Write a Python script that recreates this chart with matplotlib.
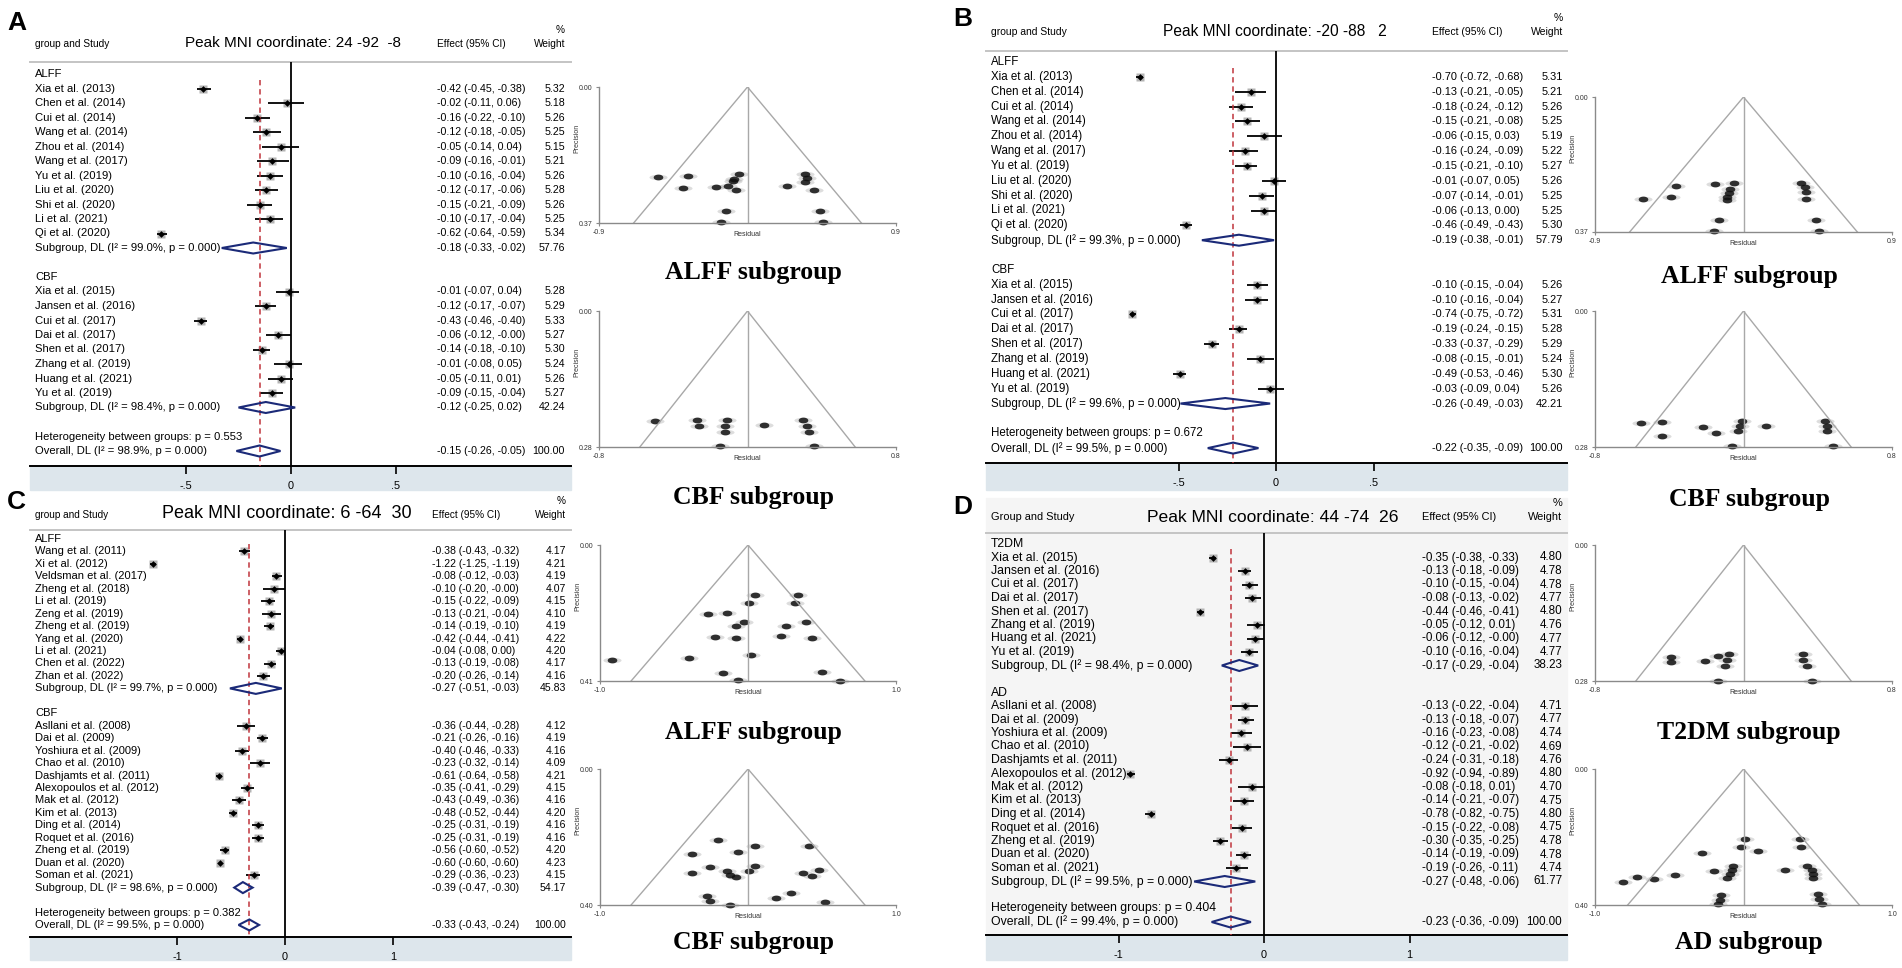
import numpy as np
import matplotlib
matplotlib.use('Agg')
import matplotlib.pyplot as plt
from matplotlib.patches import Rectangle, Polygon
from matplotlib.path import Path

plt.rcParams['font.family'] = ['Liberation Sans', 'DejaVu Sans']

W, H = 1902, 968

# study names, shared between panels
alff_ab = ['Xia et al. (2013)', 'Chen et al. (2014)', 'Cui et al. (2014)', 'Wang et al. (2014)',
           'Zhou et al. (2014)', 'Wang et al. (2017)', 'Yu et al. (2019)', 'Liu et al. (2020)',
           'Shi et al. (2020)', 'Li et al. (2021)', 'Qi et al. (2020)']
cbf_abd = ['Xia et al. (2015)', 'Jansen et al. (2016)', 'Cui et al. (2017)', 'Dai et al. (2017)',
           'Shen et al. (2017)', 'Zhang et al. (2019)', 'Huang et al. (2021)', 'Yu et al. (2019)']
alff_c = ['Wang et al. (2011)', 'Xi et al. (2012)', 'Veldsman et al. (2017)', 'Zheng et al. (2018)',
          'Li et al. (2019)', 'Zeng et al. (2019)', 'Zheng et al. (2019)', 'Yang et al. (2020)',
          'Li et al. (2021)', 'Chen et al. (2022)', 'Zhan et al. (2022)']
cbf_cd = ['Asllani et al. (2008)', 'Dai et al. (2009)', 'Yoshiura et al. (2009)', 'Chao et al. (2010)',
          'Dashjamts et al. (2011)', 'Alexopoulos et al. (2012)', 'Mak et al. (2012)', 'Kim et al. (2013)',
          'Ding et al. (2014)', 'Roquet et al. (2016)', 'Zheng et al. (2019)', 'Duan et al. (2020)',
          'Soman et al. (2021)']

# ---- panel A: 24 -92 -8
a_alff_es = [-0.42, -0.02, -0.16, -0.12, -0.05, -0.09, -0.10, -0.12, -0.15, -0.10, -0.62]
a_alff_lo = [-0.45, -0.11, -0.22, -0.18, -0.14, -0.16, -0.16, -0.17, -0.21, -0.17, -0.64]
a_alff_hi = [-0.38, 0.06, -0.10, -0.05, 0.04, -0.01, -0.04, -0.06, -0.09, -0.04, -0.59]
a_alff_w = [5.32, 5.18, 5.26, 5.25, 5.15, 5.21, 5.26, 5.28, 5.26, 5.25, 5.34]
a_cbf_es = [-0.01, -0.12, -0.43, -0.06, -0.14, -0.01, -0.05, -0.09]
a_cbf_lo = [-0.07, -0.17, -0.46, -0.12, -0.18, -0.08, -0.11, -0.15]
a_cbf_hi = [0.04, -0.07, -0.40, -0.0, -0.10, 0.05, 0.01, -0.04]
a_cbf_w = [5.28, 5.29, 5.33, 5.27, 5.30, 5.24, 5.26, 5.27]
a_sub_es = [-0.18, -0.12]
a_sub_lo = [-0.33, -0.25]
a_sub_hi = [-0.02, 0.02]
a_sub_w = [57.76, 42.24]
a_sub_i2 = ['99.0%', '98.4%']
a_overall = [-0.15, -0.26, -0.05]
a_overall_i2 = '98.9%'
a_het = '0.553'

# ---- panel B: -20 -88 2
b_alff_es = [-0.70, -0.13, -0.18, -0.15, -0.06, -0.16, -0.15, -0.01, -0.07, -0.06, -0.46]
b_alff_lo = [-0.72, -0.21, -0.24, -0.21, -0.15, -0.24, -0.21, -0.07, -0.14, -0.13, -0.49]
b_alff_hi = [-0.68, -0.05, -0.12, -0.08, 0.03, -0.09, -0.10, 0.05, -0.01, 0.0, -0.43]
b_alff_w = [5.31, 5.21, 5.26, 5.25, 5.19, 5.22, 5.27, 5.26, 5.25, 5.25, 5.30]
b_cbf_es = [-0.10, -0.10, -0.74, -0.19, -0.33, -0.08, -0.49, -0.03]
b_cbf_lo = [-0.15, -0.16, -0.75, -0.24, -0.37, -0.15, -0.53, -0.09]
b_cbf_hi = [-0.04, -0.04, -0.72, -0.15, -0.29, -0.01, -0.46, 0.04]
b_cbf_w = [5.26, 5.27, 5.31, 5.28, 5.29, 5.24, 5.30, 5.26]
b_sub_es = [-0.19, -0.26]
b_sub_lo = [-0.38, -0.49]
b_sub_hi = [-0.01, -0.03]
b_sub_w = [57.79, 42.21]
b_sub_i2 = ['99.3%', '99.6%']
b_overall = [-0.22, -0.35, -0.09]
b_overall_i2 = '99.5%'
b_het = '0.672'

# ---- panel C: 6 -64 30
c_alff_es = [-0.38, -1.22, -0.08, -0.10, -0.15, -0.13, -0.14, -0.42, -0.04, -0.13, -0.20]
c_alff_lo = [-0.43, -1.25, -0.12, -0.20, -0.22, -0.21, -0.19, -0.44, -0.08, -0.19, -0.26]
c_alff_hi = [-0.32, -1.19, -0.03, -0.0, -0.09, -0.04, -0.10, -0.41, 0.0, -0.08, -0.14]
c_alff_w = [4.17, 4.21, 4.19, 4.07, 4.15, 4.10, 4.19, 4.22, 4.20, 4.17, 4.16]
c_cbf_es = [-0.36, -0.21, -0.40, -0.23, -0.61, -0.35, -0.43, -0.48, -0.25, -0.25, -0.56, -0.60, -0.29]
c_cbf_lo = [-0.44, -0.26, -0.46, -0.32, -0.64, -0.41, -0.49, -0.52, -0.31, -0.31, -0.60, -0.60, -0.36]
c_cbf_hi = [-0.28, -0.16, -0.33, -0.14, -0.58, -0.29, -0.36, -0.44, -0.19, -0.19, -0.52, -0.60, -0.23]
c_cbf_w = [4.12, 4.19, 4.16, 4.09, 4.21, 4.15, 4.16, 4.20, 4.16, 4.16, 4.20, 4.23, 4.15]
c_sub_es = [-0.27, -0.39]
c_sub_lo = [-0.51, -0.47]
c_sub_hi = [-0.03, -0.30]
c_sub_w = [45.83, 54.17]
c_sub_i2 = ['99.7%', '98.6%']
c_overall = [-0.33, -0.43, -0.24]
c_overall_i2 = '99.5%'
c_het = '0.382'

# ---- panel D: 44 -74 26
d_t2dm_es = [-0.35, -0.13, -0.10, -0.08, -0.44, -0.05, -0.06, -0.10]
d_t2dm_lo = [-0.38, -0.18, -0.15, -0.13, -0.46, -0.12, -0.12, -0.16]
d_t2dm_hi = [-0.33, -0.09, -0.04, -0.02, -0.41, 0.01, -0.0, -0.04]
d_t2dm_w = [4.80, 4.78, 4.78, 4.77, 4.80, 4.76, 4.77, 4.77]
d_ad_es = [-0.13, -0.13, -0.16, -0.12, -0.24, -0.92, -0.08, -0.14, -0.78, -0.15, -0.30, -0.14, -0.19]
d_ad_lo = [-0.22, -0.18, -0.23, -0.21, -0.31, -0.94, -0.18, -0.21, -0.82, -0.22, -0.35, -0.19, -0.26]
d_ad_hi = [-0.04, -0.07, -0.08, -0.02, -0.18, -0.89, 0.01, -0.07, -0.75, -0.08, -0.25, -0.09, -0.11]
d_ad_w = [4.71, 4.77, 4.74, 4.69, 4.76, 4.80, 4.70, 4.75, 4.80, 4.75, 4.78, 4.78, 4.74]
d_sub_es = [-0.17, -0.27]
d_sub_lo = [-0.29, -0.48]
d_sub_hi = [-0.04, -0.06]
d_sub_w = [38.23, 61.77]
d_sub_i2 = ['98.4%', '99.5%']
d_overall = [-0.23, -0.36, -0.09]
d_overall_i2 = '99.4%'
d_het = '0.404'

# ---- funnel plots (residual, precision)
a1_res = [-0.54, -0.36, -0.39, -0.19, -0.12, -0.09, -0.08, -0.05, -0.07, -0.13, -0.16,
          0.24, 0.35, 0.36, 0.35, 0.40, 0.44, 0.46]
a1_prec = [0.245, 0.241, 0.274, 0.273, 0.268, 0.256, 0.250, 0.236, 0.281, 0.337, 0.367,
           0.269, 0.236, 0.248, 0.258, 0.280, 0.337, 0.367]
a2_res = [-0.50, -0.27, -0.26, -0.11, -0.12, -0.12, -0.15, 0.09, 0.30, 0.32, 0.33, 0.36]
a2_prec = [0.227, 0.224, 0.237, 0.225, 0.237, 0.249, 0.278, 0.235, 0.225, 0.237, 0.249, 0.278]
b1_res = [-0.61, -0.44, -0.41, -0.17, -0.06, -0.08, -0.09, -0.10, -0.10, -0.15, -0.18,
          0.35, 0.37, 0.38, 0.38, 0.44, 0.46]
b1_prec = [0.280, 0.275, 0.243, 0.238, 0.236, 0.252, 0.264, 0.275, 0.282, 0.338, 0.368,
           0.235, 0.247, 0.259, 0.280, 0.337, 0.366]
b2_res = [-0.55, -0.44, -0.44, -0.22, -0.15, -0.01, -0.02, -0.03, -0.06, 0.12, 0.44, 0.45, 0.45, 0.48]
b2_prec = [0.230, 0.228, 0.257, 0.239, 0.252, 0.226, 0.237, 0.247, 0.278, 0.236, 0.226, 0.237, 0.247, 0.278]
c1_res = [-0.92, -0.40, -0.27, -0.14, 0.05, 0.01, -0.03, -0.08, -0.22, -0.08, 0.02, -0.17, -0.07,
          0.34, 0.32, 0.39, 0.26, 0.22, 0.43, 0.50, 0.62]
c1_prec = [0.347, 0.340, 0.207, 0.204, 0.151, 0.176, 0.231, 0.245, 0.278, 0.279, 0.331, 0.385, 0.408,
           0.151, 0.176, 0.231, 0.243, 0.275, 0.279, 0.383, 0.410]
c2_res = [-0.20, -0.38, -0.07, 0.05, -0.26, -0.38, -0.14, -0.12, -0.08, 0.01, 0.05,
          -0.28, -0.26, -0.12, 0.19, 0.29, 0.41, 0.37, 0.43, 0.48, 0.52]
c2_prec = [0.208, 0.249, 0.243, 0.227, 0.289, 0.305, 0.299, 0.311, 0.319, 0.299, 0.284,
           0.374, 0.388, 0.399, 0.378, 0.364, 0.225, 0.305, 0.314, 0.297, 0.392]
d1_res = [-0.39, -0.39, -0.21, -0.14, -0.08, -0.09, -0.10, -0.14, 0.32, 0.32, 0.34, 0.37]
d1_prec = [0.230, 0.241, 0.238, 0.228, 0.224, 0.237, 0.249, 0.279, 0.224, 0.237, 0.249, 0.279]
d2_res = [-0.81, -0.72, -0.60, -0.46, -0.28, -0.20, -0.07, -0.08, -0.09, -0.11, -0.02, 0.01, 0.10,
          0.28, 0.38, 0.39, 0.43, 0.46, 0.47, 0.47, -0.15, -0.16, -0.17, 0.50, 0.51, 0.53]
d2_prec = [0.331, 0.318, 0.323, 0.311, 0.246, 0.300, 0.286, 0.298, 0.309, 0.320, 0.229, 0.206, 0.242,
           0.296, 0.206, 0.228, 0.284, 0.297, 0.309, 0.320, 0.371, 0.385, 0.398, 0.369, 0.382, 0.396]

NAVY = '#1b2a78'
RED = '#c0343c'
BAND = '#dde6ec'

fig = plt.figure(figsize=(W / 100, H / 100), dpi=100)


def fig_rect(x0, y0, x1, y1):
    return [x0 / W, 1 - y1 / H, (x1 - x0) / W, (y1 - y0) / H]


def forest(lay, groups, names, es, lo, hi, wt, sub_es, sub_lo, sub_hi, sub_w, sub_i2,
           overall, overall_i2, het, title, xt, xtl, head_label):
    def px_x(px):
        return (px - lay['zero']) / lay['ppu']

    def px_r(py):
        return (py - lay['row0']) / lay['step']

    if lay.get('bg'):
        fig.add_artist(Rectangle((lay['left'] / W, 1 - lay['axis'] / H),
                                 (lay['right'] - lay['left']) / W, (lay['axis'] - lay['bgtop']) / H,
                                 transform=fig.transFigure, color=lay['bg'], zorder=-2))
    fig.add_artist(Rectangle((lay['left'] / W, 1 - lay['band'] / H),
                             (lay['right'] - lay['left']) / W, (lay['band'] - lay['axis']) / H,
                             transform=fig.transFigure, color=BAND, zorder=-1))

    ax = fig.add_axes(fig_rect(lay['left'], lay['top'], lay['right'], lay['axis']))
    ax.patch.set_visible(False)
    ax.set_xlim(px_x(lay['left']), px_x(lay['right']))
    ax.set_ylim(px_r(lay['axis']), px_r(lay['top']))
    for s in ['left', 'right']:
        ax.spines[s].set_visible(False)
    ax.spines['top'].set_color('#c4c4c4')
    ax.spines['top'].set_linewidth(1.4)
    ax.spines['bottom'].set_linewidth(1.4)
    ax.set_yticks([])
    ax.set_xticks(xt)
    ax.set_xticklabels(xtl)
    ax.tick_params(axis='x', direction='out', length=6, width=1.2, labelsize=7.8, pad=5)

    fs = lay['fs']
    nfs = fs * 0.95
    lx = px_x(lay['lab_x'])
    ex = px_x(lay['eff_x'])
    wx = px_x(lay['wt_x'])
    txt = dict(fontsize=fs, va='center', clip_on=False)
    num = dict(fontsize=nfs, va='center', clip_on=False)

    # header
    hy = px_r(lay['head_y'])
    ax.text(lx, hy, head_label, fontsize=fs * 0.9, va='center', clip_on=False)
    ax.text(ex, hy, 'Effect (95% CI)', fontsize=fs * 0.9, va='center', clip_on=False)
    ax.text(wx, hy, 'Weight', fontsize=fs * 0.9, va='center', ha='right', clip_on=False)
    ax.text(wx, px_r(lay['head_y'] - 14), '%', fontsize=fs * 0.9, va='center', ha='right', clip_on=False)
    ax.text(px_x(lay['title_x']), px_r(lay['title_y']), title, fontsize=lay['tfs'],
            va='center', ha='center', clip_on=False)

    hh = 5.5 / lay['step']
    row = 0
    for g in range(len(groups)):
        ax.text(lx, row, groups[g], **txt)
        row += 1
        rows = np.arange(row, row + len(es[g]))
        ax.hlines(rows, lo[g], hi[g], color='k', lw=1.3, zorder=3)
        ax.plot(es[g], rows, 's', color='#b4b4b4', ms=6.4, mec='none', zorder=2)
        ax.plot(es[g], rows, 'D', color='k', ms=3.4, mec='none', zorder=4)
        for i, r in enumerate(rows):
            ax.text(lx, r, names[g][i], **txt)
            ax.text(ex, r, f'{es[g][i]:.2f} ({lo[g][i]:.2f}, {hi[g][i]:.2f})', **num)
            ax.text(wx, r, f'{wt[g][i]:.2f}', ha='right', **num)
        row += len(es[g])
        ax.add_patch(Polygon([(sub_lo[g], row), (sub_es[g], row - hh), (sub_hi[g], row),
                              (sub_es[g], row + hh)], closed=True, fill=False,
                             edgecolor=NAVY, lw=1.5, zorder=4))
        ax.text(lx, row, f'Subgroup, DL (I\u00b2 = {sub_i2[g]}, p = 0.000)', **txt)
        ax.text(ex, row, f'{sub_es[g]:.2f} ({sub_lo[g]:.2f}, {sub_hi[g]:.2f})', **num)
        ax.text(wx, row, f'{sub_w[g]:.2f}', ha='right', **num)
        row += 2

    ax.text(lx, row, f'Heterogeneity between groups: p = {het}', **txt)
    row += 1
    ax.add_patch(Polygon([(overall[1], row), (overall[0], row - hh), (overall[2], row),
                          (overall[0], row + hh)], closed=True, fill=False,
                         edgecolor=NAVY, lw=1.5, zorder=4))
    ax.text(lx, row, f'Overall, DL (I\u00b2 = {overall_i2}, p = 0.000)', **txt)
    ax.text(ex, row, f'{overall[0]:.2f} ({overall[1]:.2f}, {overall[2]:.2f})', **num)
    ax.text(wx, row, '100.00', ha='right', **num)

    ax.plot([0, 0], [px_r(lay['top']), px_r(lay['axis'])], color='k', lw=1.3, zorder=3)
    ax.plot([overall[0], overall[0]], [0.4, px_r(lay['axis'])], color=RED, lw=1.1,
            ls=(0, (3.5, 2.5)), zorder=3)
    return ax


def funnel(box, xm, pmax, half, res, prec, title, title_y):
    x0, y0, x1, y1 = box
    ax = fig.add_axes(fig_rect(x0, y0, x1, y1))
    ax.patch.set_visible(False)
    ax.set_xlim(-xm, xm)
    ax.set_ylim(pmax, 0)
    ax.spines['top'].set_visible(False)
    ax.spines['right'].set_visible(False)
    for s in ['left', 'bottom']:
        ax.spines[s].set_color('#8a8a8a')
        ax.spines[s].set_linewidth(1.0)
    ax.set_xticks([-xm, xm])
    ax.set_xticklabels([f'{-xm:.1f}', f'{xm:.1f}'])
    ax.set_yticks([0, pmax])
    ax.set_yticklabels(['0.00', f'{pmax:.2f}'])
    ax.tick_params(length=2.5, width=0.8, color='#8a8a8a', labelsize=5, labelcolor='#333333', pad=2)
    ax.plot([-half, 0, half], [pmax, 0, pmax], color='#a8a8a8', lw=1.0)
    ax.plot([0, 0], [0, pmax], color='#a8a8a8', lw=1.0)
    ax.text(0.5, -0.085, 'Residual', transform=ax.transAxes, ha='center', va='center',
            fontsize=5, color='#333333')
    ax.text(-0.075, 0.62, 'Precision', transform=ax.transAxes, ha='center', va='center',
            rotation=90, fontsize=5, color='#333333')
    t = np.linspace(0, 2 * np.pi, 40)
    smear = Path(np.column_stack([np.cos(t), 0.3 * np.sin(t)]), closed=True)
    blob = Path(np.column_stack([np.cos(t), 0.6 * np.sin(t)]), closed=True)
    ax.scatter(res, prec, marker=smear, s=170, color='#666666', alpha=0.22, linewidths=0, clip_on=False)
    ax.scatter(res, prec, marker=blob, s=48, color='#111111', alpha=0.85, linewidths=0, clip_on=False)
    fig.text((x0 + x1) / 2 / W + 0.003, 1 - title_y / H, title, ha='center', va='center',
             fontsize=18.5, fontweight='bold', family=['Liberation Serif', 'DejaVu Serif'])


lay_a = dict(left=30, right=571, top=62, axis=466, band=490, zero=291, ppu=210, row0=74, step=14.5,
             head_y=44, title_x=293, title_y=43, eff_x=437, wt_x=565, lab_x=35, fs=8.1, tfs=11)
lay_b = dict(left=986, right=1567, top=51, axis=463, band=490, zero=1276, ppu=195, row0=62, step=14.85,
             head_y=32, title_x=1275, title_y=32, eff_x=1432, wt_x=1563, lab_x=991, fs=8.3, tfs=11.2)
lay_c = dict(left=30, right=571, top=530, axis=937, band=960, zero=285, ppu=108, row0=539, step=12.45,
             head_y=515, title_x=287, title_y=514, eff_x=432, wt_x=566, lab_x=35, fs=8.0, tfs=13)
lay_d = dict(left=986, right=1567, top=533, axis=935, band=960, zero=1264, ppu=145.5, row0=544, step=13.5,
             head_y=517, title_x=1273, title_y=517, eff_x=1422, wt_x=1562, lab_x=991, fs=8.8, tfs=12.6,
             bg='#f5f5f5', bgtop=498)

forest(lay_a, ['ALFF', 'CBF'], [alff_ab, cbf_abd], [a_alff_es, a_cbf_es], [a_alff_lo, a_cbf_lo],
       [a_alff_hi, a_cbf_hi], [a_alff_w, a_cbf_w], a_sub_es, a_sub_lo, a_sub_hi, a_sub_w, a_sub_i2,
       a_overall, a_overall_i2, a_het, 'Peak MNI coordinate: 24 -92  -8',
       [-0.5, 0, 0.5], ['-.5', '0', '.5'], 'group and Study')
forest(lay_b, ['ALFF', 'CBF'], [alff_ab, cbf_abd], [b_alff_es, b_cbf_es], [b_alff_lo, b_cbf_lo],
       [b_alff_hi, b_cbf_hi], [b_alff_w, b_cbf_w], b_sub_es, b_sub_lo, b_sub_hi, b_sub_w, b_sub_i2,
       b_overall, b_overall_i2, b_het, 'Peak MNI coordinate: -20 -88   2',
       [-0.5, 0, 0.5], ['-.5', '0', '.5'], 'group and Study')
forest(lay_c, ['ALFF', 'CBF'], [alff_c, cbf_cd], [c_alff_es, c_cbf_es], [c_alff_lo, c_cbf_lo],
       [c_alff_hi, c_cbf_hi], [c_alff_w, c_cbf_w], c_sub_es, c_sub_lo, c_sub_hi, c_sub_w, c_sub_i2,
       c_overall, c_overall_i2, c_het, 'Peak MNI coordinate: 6 -64  30',
       [-1, 0, 1], ['-1', '0', '1'], 'group and Study')
forest(lay_d, ['T2DM', 'AD'], [cbf_abd, cbf_cd], [d_t2dm_es, d_ad_es], [d_t2dm_lo, d_ad_lo],
       [d_t2dm_hi, d_ad_hi], [d_t2dm_w, d_ad_w], d_sub_es, d_sub_lo, d_sub_hi, d_sub_w, d_sub_i2,
       d_overall, d_overall_i2, d_het, 'Peak MNI coordinate: 44 -74  26',
       [-1, 0, 1], ['-1', '0', '1'], 'Group and Study')

funnel((599, 87, 896, 223), 0.9, 0.37, 0.69, a1_res, a1_prec, 'ALFF subgroup', 273)
funnel((599, 311, 896, 447), 0.8, 0.28, 0.58, a2_res, a2_prec, 'CBF subgroup', 497)
funnel((1595, 97, 1892, 232), 0.9, 0.37, 0.69, b1_res, b1_prec, 'ALFF subgroup', 277)
funnel((1595, 311, 1892, 447), 0.8, 0.28, 0.58, b2_res, b2_prec, 'CBF subgroup', 500)
funnel((600, 545, 896, 681), 1.0, 0.41, 0.79, c1_res, c1_prec, 'ALFF subgroup', 732)
funnel((600, 769, 896, 905), 1.0, 0.40, 0.79, c2_res, c2_prec, 'CBF subgroup', 943)
funnel((1595, 545, 1892, 681), 0.8, 0.28, 0.58, d1_res, d1_prec, 'T2DM subgroup', 732)
funnel((1595, 769, 1892, 905), 1.0, 0.40, 0.78, d2_res, d2_prec, 'AD subgroup', 943)

for letter, x, y in [('A', 7, 23), ('B', 953, 19), ('C', 7, 502), ('D', 953, 507)]:
    fig.text(x / W, 1 - y / H, letter, fontsize=19, fontweight='bold', ha='left', va='center')

fig.savefig('out.png', dpi=100)
